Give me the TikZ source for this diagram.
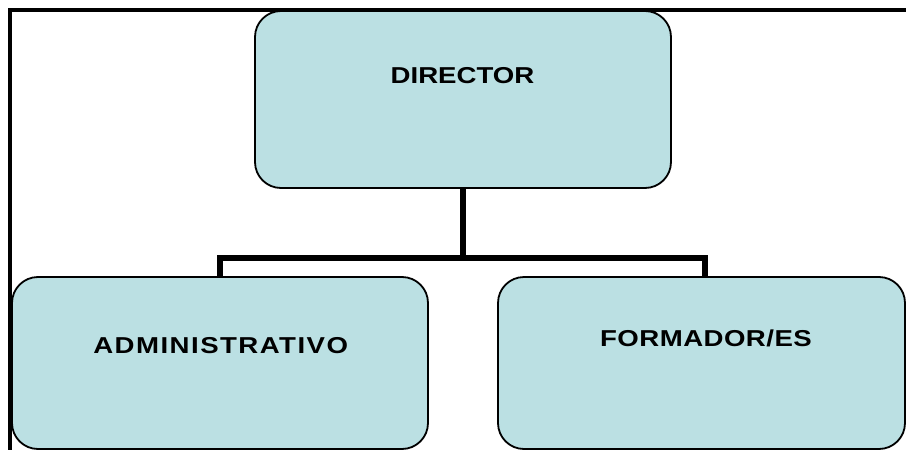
\documentclass[tikz,border=0pt]{standalone}
\usepackage{graphicx}
\usepackage{fontspec}
\setmainfont{Liberation Sans}
\newfontfamily\lblfont{Liberation Sans}
\definecolor{boxfill}{RGB}{187,224,227}
\newcommand{\widetext}[1]{\scalebox{1.2}[1]{#1}}
\begin{document}
\begin{tikzpicture}[x=1pt,y=-1pt,
  orgbox/.style={draw=black, line width=1.8pt, fill=boxfill, rounded corners=26pt, rectangle, inner sep=0pt},
  lbl/.style={font=\lblfont\bfseries\fontsize{23}{27}\selectfont, inner sep=0pt, anchor=base},
  link/.style={draw=black, line width=6pt, line join=miter}]
\useasboundingbox (0,0) rectangle (906,450);
\clip (0,0) rectangle (906,450);
\fill[white] (0,0) rectangle (906,450);
% boxes
\node[orgbox, minimum width=416pt, minimum height=177pt] (dir) at (463,99.5) {};
\node[orgbox, minimum width=416pt, minimum height=172pt] (adm) at (220,363) {};
\node[orgbox, minimum width=407pt, minimum height=172pt] (form) at (701.5,363) {};
% labels
\node[lbl] (dirl) at (462.5,83.3) {\widetext{DIRECTOR}};
\node[lbl] (adml) at (220.7,353.3) {\widetext{\addfontfeature{LetterSpace=5.3}ADMINISTRATIVO}};
\node[lbl] (forml) at (706,346.3) {\widetext{\addfontfeature{LetterSpace=1.7}FORMADOR/ES}};
% connectors
\coordinate (j) at (463,258);
\coordinate (fr) at ([xshift=3.5pt]form.north);
\draw[link] (dir.south) -- (dir.south |- j);
\draw[link] (adm.north) -- (adm.north |- j) -- (fr |- j) -- (fr);
% frame
\draw[line width=4pt] (9.5,9.5) rectangle (940,480);
\end{tikzpicture}
\end{document}
